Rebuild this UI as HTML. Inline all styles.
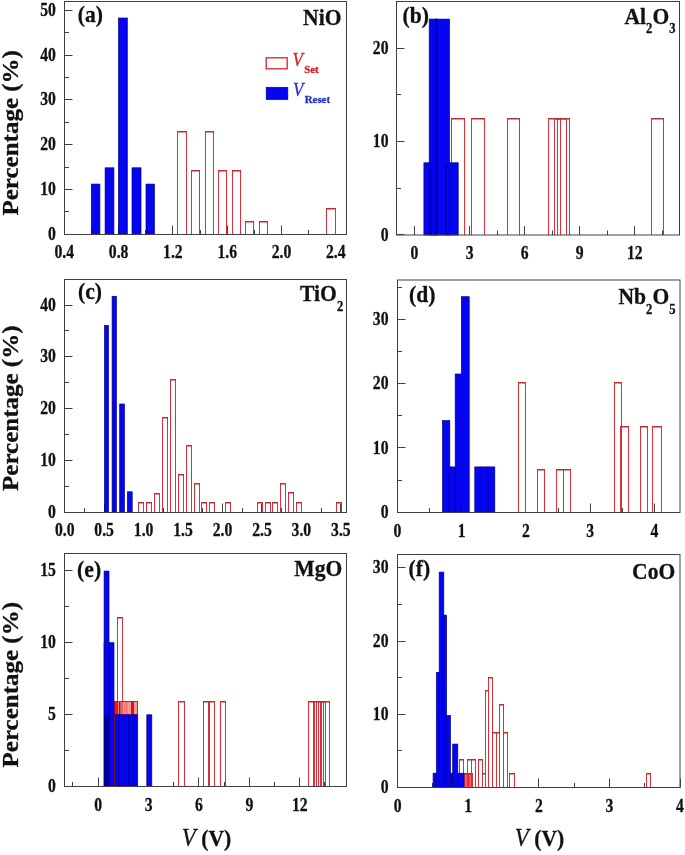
<!DOCTYPE html>
<html><head><meta charset="utf-8"><style>
html,body{margin:0;padding:0;background:#fff;}
svg{display:block;}
text{font-family:"Liberation Serif",serif;}
svg{will-change:transform;}
</style></head><body>
<svg width="685" height="855" viewBox="0 0 685 855">
<rect width="685" height="855" fill="#fff"/>
<line x1="64.50" y1="234.50" x2="72.50" y2="234.50" stroke="#404040" stroke-width="1.0"/>
<line x1="64.50" y1="211.50" x2="69.00" y2="211.50" stroke="#404040" stroke-width="1.0"/>
<line x1="64.50" y1="189.50" x2="72.50" y2="189.50" stroke="#404040" stroke-width="1.0"/>
<line x1="64.50" y1="167.50" x2="69.00" y2="167.50" stroke="#404040" stroke-width="1.0"/>
<line x1="64.50" y1="144.50" x2="72.50" y2="144.50" stroke="#404040" stroke-width="1.0"/>
<line x1="64.50" y1="122.50" x2="69.00" y2="122.50" stroke="#404040" stroke-width="1.0"/>
<line x1="64.50" y1="99.50" x2="72.50" y2="99.50" stroke="#404040" stroke-width="1.0"/>
<line x1="64.50" y1="77.50" x2="69.00" y2="77.50" stroke="#404040" stroke-width="1.0"/>
<line x1="64.50" y1="55.50" x2="72.50" y2="55.50" stroke="#404040" stroke-width="1.0"/>
<line x1="64.50" y1="32.50" x2="69.00" y2="32.50" stroke="#404040" stroke-width="1.0"/>
<line x1="64.50" y1="10.50" x2="72.50" y2="10.50" stroke="#404040" stroke-width="1.0"/>
<line x1="64.50" y1="234.50" x2="64.50" y2="225.50" stroke="#404040" stroke-width="1.0"/>
<line x1="91.50" y1="234.50" x2="91.50" y2="230.00" stroke="#404040" stroke-width="1.0"/>
<line x1="118.50" y1="234.50" x2="118.50" y2="225.50" stroke="#404040" stroke-width="1.0"/>
<line x1="145.50" y1="234.50" x2="145.50" y2="230.00" stroke="#404040" stroke-width="1.0"/>
<line x1="172.50" y1="234.50" x2="172.50" y2="225.50" stroke="#404040" stroke-width="1.0"/>
<line x1="200.50" y1="234.50" x2="200.50" y2="230.00" stroke="#404040" stroke-width="1.0"/>
<line x1="227.50" y1="234.50" x2="227.50" y2="225.50" stroke="#404040" stroke-width="1.0"/>
<line x1="254.50" y1="234.50" x2="254.50" y2="230.00" stroke="#404040" stroke-width="1.0"/>
<line x1="281.50" y1="234.50" x2="281.50" y2="225.50" stroke="#404040" stroke-width="1.0"/>
<line x1="308.50" y1="234.50" x2="308.50" y2="230.00" stroke="#404040" stroke-width="1.0"/>
<line x1="335.50" y1="234.50" x2="335.50" y2="225.50" stroke="#404040" stroke-width="1.0"/>
<line x1="396.50" y1="234.50" x2="404.50" y2="234.50" stroke="#404040" stroke-width="1.0"/>
<line x1="396.50" y1="188.50" x2="401.00" y2="188.50" stroke="#404040" stroke-width="1.0"/>
<line x1="396.50" y1="141.50" x2="404.50" y2="141.50" stroke="#404040" stroke-width="1.0"/>
<line x1="396.50" y1="94.50" x2="401.00" y2="94.50" stroke="#404040" stroke-width="1.0"/>
<line x1="396.50" y1="48.50" x2="404.50" y2="48.50" stroke="#404040" stroke-width="1.0"/>
<line x1="396.50" y1="1.50" x2="401.00" y2="1.50" stroke="#404040" stroke-width="1.0"/>
<line x1="414.50" y1="235.00" x2="414.50" y2="226.00" stroke="#404040" stroke-width="1.0"/>
<line x1="442.50" y1="235.00" x2="442.50" y2="230.50" stroke="#404040" stroke-width="1.0"/>
<line x1="469.50" y1="235.00" x2="469.50" y2="226.00" stroke="#404040" stroke-width="1.0"/>
<line x1="497.50" y1="235.00" x2="497.50" y2="230.50" stroke="#404040" stroke-width="1.0"/>
<line x1="524.50" y1="235.00" x2="524.50" y2="226.00" stroke="#404040" stroke-width="1.0"/>
<line x1="552.50" y1="235.00" x2="552.50" y2="230.50" stroke="#404040" stroke-width="1.0"/>
<line x1="579.50" y1="235.00" x2="579.50" y2="226.00" stroke="#404040" stroke-width="1.0"/>
<line x1="607.50" y1="235.00" x2="607.50" y2="230.50" stroke="#404040" stroke-width="1.0"/>
<line x1="634.50" y1="235.00" x2="634.50" y2="226.00" stroke="#404040" stroke-width="1.0"/>
<line x1="662.50" y1="235.00" x2="662.50" y2="230.50" stroke="#404040" stroke-width="1.0"/>
<line x1="64.50" y1="512.50" x2="72.50" y2="512.50" stroke="#404040" stroke-width="1.0"/>
<line x1="64.50" y1="486.50" x2="69.00" y2="486.50" stroke="#404040" stroke-width="1.0"/>
<line x1="64.50" y1="460.50" x2="72.50" y2="460.50" stroke="#404040" stroke-width="1.0"/>
<line x1="64.50" y1="434.50" x2="69.00" y2="434.50" stroke="#404040" stroke-width="1.0"/>
<line x1="64.50" y1="408.50" x2="72.50" y2="408.50" stroke="#404040" stroke-width="1.0"/>
<line x1="64.50" y1="382.50" x2="69.00" y2="382.50" stroke="#404040" stroke-width="1.0"/>
<line x1="64.50" y1="356.50" x2="72.50" y2="356.50" stroke="#404040" stroke-width="1.0"/>
<line x1="64.50" y1="330.50" x2="69.00" y2="330.50" stroke="#404040" stroke-width="1.0"/>
<line x1="64.50" y1="305.50" x2="72.50" y2="305.50" stroke="#404040" stroke-width="1.0"/>
<line x1="64.50" y1="279.50" x2="69.00" y2="279.50" stroke="#404040" stroke-width="1.0"/>
<line x1="64.50" y1="512.50" x2="64.50" y2="503.50" stroke="#404040" stroke-width="1.0"/>
<line x1="84.50" y1="512.50" x2="84.50" y2="508.00" stroke="#404040" stroke-width="1.0"/>
<line x1="104.50" y1="512.50" x2="104.50" y2="503.50" stroke="#404040" stroke-width="1.0"/>
<line x1="123.50" y1="512.50" x2="123.50" y2="508.00" stroke="#404040" stroke-width="1.0"/>
<line x1="143.50" y1="512.50" x2="143.50" y2="503.50" stroke="#404040" stroke-width="1.0"/>
<line x1="163.50" y1="512.50" x2="163.50" y2="508.00" stroke="#404040" stroke-width="1.0"/>
<line x1="183.50" y1="512.50" x2="183.50" y2="503.50" stroke="#404040" stroke-width="1.0"/>
<line x1="202.50" y1="512.50" x2="202.50" y2="508.00" stroke="#404040" stroke-width="1.0"/>
<line x1="222.50" y1="512.50" x2="222.50" y2="503.50" stroke="#404040" stroke-width="1.0"/>
<line x1="242.50" y1="512.50" x2="242.50" y2="508.00" stroke="#404040" stroke-width="1.0"/>
<line x1="261.50" y1="512.50" x2="261.50" y2="503.50" stroke="#404040" stroke-width="1.0"/>
<line x1="281.50" y1="512.50" x2="281.50" y2="508.00" stroke="#404040" stroke-width="1.0"/>
<line x1="301.50" y1="512.50" x2="301.50" y2="503.50" stroke="#404040" stroke-width="1.0"/>
<line x1="321.50" y1="512.50" x2="321.50" y2="508.00" stroke="#404040" stroke-width="1.0"/>
<line x1="340.50" y1="512.50" x2="340.50" y2="503.50" stroke="#404040" stroke-width="1.0"/>
<line x1="397.50" y1="512.50" x2="405.50" y2="512.50" stroke="#404040" stroke-width="1.0"/>
<line x1="397.50" y1="480.50" x2="402.00" y2="480.50" stroke="#404040" stroke-width="1.0"/>
<line x1="397.50" y1="447.50" x2="405.50" y2="447.50" stroke="#404040" stroke-width="1.0"/>
<line x1="397.50" y1="415.50" x2="402.00" y2="415.50" stroke="#404040" stroke-width="1.0"/>
<line x1="397.50" y1="383.50" x2="405.50" y2="383.50" stroke="#404040" stroke-width="1.0"/>
<line x1="397.50" y1="351.50" x2="402.00" y2="351.50" stroke="#404040" stroke-width="1.0"/>
<line x1="397.50" y1="319.50" x2="405.50" y2="319.50" stroke="#404040" stroke-width="1.0"/>
<line x1="397.50" y1="287.50" x2="402.00" y2="287.50" stroke="#404040" stroke-width="1.0"/>
<line x1="397.50" y1="512.50" x2="397.50" y2="503.50" stroke="#404040" stroke-width="1.0"/>
<line x1="429.50" y1="512.50" x2="429.50" y2="508.00" stroke="#404040" stroke-width="1.0"/>
<line x1="461.50" y1="512.50" x2="461.50" y2="503.50" stroke="#404040" stroke-width="1.0"/>
<line x1="493.50" y1="512.50" x2="493.50" y2="508.00" stroke="#404040" stroke-width="1.0"/>
<line x1="525.50" y1="512.50" x2="525.50" y2="503.50" stroke="#404040" stroke-width="1.0"/>
<line x1="558.50" y1="512.50" x2="558.50" y2="508.00" stroke="#404040" stroke-width="1.0"/>
<line x1="590.50" y1="512.50" x2="590.50" y2="503.50" stroke="#404040" stroke-width="1.0"/>
<line x1="622.50" y1="512.50" x2="622.50" y2="508.00" stroke="#404040" stroke-width="1.0"/>
<line x1="654.50" y1="512.50" x2="654.50" y2="503.50" stroke="#404040" stroke-width="1.0"/>
<line x1="64.50" y1="786.50" x2="72.50" y2="786.50" stroke="#404040" stroke-width="1.0"/>
<line x1="64.50" y1="750.50" x2="69.00" y2="750.50" stroke="#404040" stroke-width="1.0"/>
<line x1="64.50" y1="714.50" x2="72.50" y2="714.50" stroke="#404040" stroke-width="1.0"/>
<line x1="64.50" y1="678.50" x2="69.00" y2="678.50" stroke="#404040" stroke-width="1.0"/>
<line x1="64.50" y1="642.50" x2="72.50" y2="642.50" stroke="#404040" stroke-width="1.0"/>
<line x1="64.50" y1="606.50" x2="69.00" y2="606.50" stroke="#404040" stroke-width="1.0"/>
<line x1="64.50" y1="570.50" x2="72.50" y2="570.50" stroke="#404040" stroke-width="1.0"/>
<line x1="72.50" y1="786.50" x2="72.50" y2="782.00" stroke="#404040" stroke-width="1.0"/>
<line x1="98.50" y1="786.50" x2="98.50" y2="777.50" stroke="#404040" stroke-width="1.0"/>
<line x1="123.50" y1="786.50" x2="123.50" y2="782.00" stroke="#404040" stroke-width="1.0"/>
<line x1="148.50" y1="786.50" x2="148.50" y2="777.50" stroke="#404040" stroke-width="1.0"/>
<line x1="173.50" y1="786.50" x2="173.50" y2="782.00" stroke="#404040" stroke-width="1.0"/>
<line x1="198.50" y1="786.50" x2="198.50" y2="777.50" stroke="#404040" stroke-width="1.0"/>
<line x1="224.50" y1="786.50" x2="224.50" y2="782.00" stroke="#404040" stroke-width="1.0"/>
<line x1="249.50" y1="786.50" x2="249.50" y2="777.50" stroke="#404040" stroke-width="1.0"/>
<line x1="274.50" y1="786.50" x2="274.50" y2="782.00" stroke="#404040" stroke-width="1.0"/>
<line x1="299.50" y1="786.50" x2="299.50" y2="777.50" stroke="#404040" stroke-width="1.0"/>
<line x1="324.50" y1="786.50" x2="324.50" y2="782.00" stroke="#404040" stroke-width="1.0"/>
<line x1="397.50" y1="787.50" x2="405.50" y2="787.50" stroke="#404040" stroke-width="1.0"/>
<line x1="397.50" y1="750.50" x2="402.00" y2="750.50" stroke="#404040" stroke-width="1.0"/>
<line x1="397.50" y1="714.50" x2="405.50" y2="714.50" stroke="#404040" stroke-width="1.0"/>
<line x1="397.50" y1="677.50" x2="402.00" y2="677.50" stroke="#404040" stroke-width="1.0"/>
<line x1="397.50" y1="641.50" x2="405.50" y2="641.50" stroke="#404040" stroke-width="1.0"/>
<line x1="397.50" y1="604.50" x2="402.00" y2="604.50" stroke="#404040" stroke-width="1.0"/>
<line x1="397.50" y1="567.50" x2="405.50" y2="567.50" stroke="#404040" stroke-width="1.0"/>
<line x1="397.50" y1="787.50" x2="397.50" y2="778.50" stroke="#404040" stroke-width="1.0"/>
<line x1="432.50" y1="787.50" x2="432.50" y2="783.00" stroke="#404040" stroke-width="1.0"/>
<line x1="468.50" y1="787.50" x2="468.50" y2="778.50" stroke="#404040" stroke-width="1.0"/>
<line x1="503.50" y1="787.50" x2="503.50" y2="783.00" stroke="#404040" stroke-width="1.0"/>
<line x1="538.50" y1="787.50" x2="538.50" y2="778.50" stroke="#404040" stroke-width="1.0"/>
<line x1="574.50" y1="787.50" x2="574.50" y2="783.00" stroke="#404040" stroke-width="1.0"/>
<line x1="609.50" y1="787.50" x2="609.50" y2="778.50" stroke="#404040" stroke-width="1.0"/>
<line x1="644.50" y1="787.50" x2="644.50" y2="783.00" stroke="#404040" stroke-width="1.0"/>
<line x1="680.50" y1="787.50" x2="680.50" y2="778.50" stroke="#404040" stroke-width="1.0"/>
<path d="M177.5,234.5 V131.5 H186.5 V234.5" fill="none" stroke="#dc3038" stroke-width="1.0"/>
<line x1="177.0" y1="131.75" x2="187.0" y2="131.75" stroke="#c8282f" stroke-width="1.5"/>
<path d="M191.5,234.5 V170.5 H199.5 V234.5" fill="none" stroke="#dc3038" stroke-width="1.0"/>
<line x1="191.0" y1="170.75" x2="200.0" y2="170.75" stroke="#c8282f" stroke-width="1.5"/>
<path d="M205.5,234.5 V131.5 H213.5 V234.5" fill="none" stroke="#dc3038" stroke-width="1.0"/>
<line x1="205.0" y1="131.75" x2="214.0" y2="131.75" stroke="#c8282f" stroke-width="1.5"/>
<path d="M218.5,234.5 V170.5 H226.5 V234.5" fill="none" stroke="#dc3038" stroke-width="1.0"/>
<line x1="218.0" y1="170.75" x2="227.0" y2="170.75" stroke="#c8282f" stroke-width="1.5"/>
<path d="M232.5,234.5 V170.5 H240.5 V234.5" fill="none" stroke="#dc3038" stroke-width="1.0"/>
<line x1="232.0" y1="170.75" x2="241.0" y2="170.75" stroke="#c8282f" stroke-width="1.5"/>
<path d="M245.5,234.5 V221.5 H253.5 V234.5" fill="none" stroke="#dc3038" stroke-width="1.0"/>
<line x1="245.0" y1="221.75" x2="254.0" y2="221.75" stroke="#c8282f" stroke-width="1.5"/>
<path d="M259.5,234.5 V221.5 H267.5 V234.5" fill="none" stroke="#dc3038" stroke-width="1.0"/>
<line x1="259.0" y1="221.75" x2="268.0" y2="221.75" stroke="#c8282f" stroke-width="1.5"/>
<path d="M326.5,234.5 V208.5 H335.5 V234.5" fill="none" stroke="#dc3038" stroke-width="1.0"/>
<line x1="326.0" y1="208.75" x2="336.0" y2="208.75" stroke="#c8282f" stroke-width="1.5"/>
<rect x="91.30" y="184.10" width="8.60" height="50.40" fill="#0505f0" stroke="#00008a" stroke-width="0.7"/>
<rect x="105.10" y="167.80" width="8.80" height="66.70" fill="#0505f0" stroke="#00008a" stroke-width="0.7"/>
<rect x="118.50" y="18.00" width="8.80" height="216.50" fill="#0505f0" stroke="#00008a" stroke-width="0.7"/>
<rect x="132.00" y="167.80" width="9.00" height="66.70" fill="#0505f0" stroke="#00008a" stroke-width="0.7"/>
<rect x="146.00" y="184.10" width="8.40" height="50.40" fill="#0505f0" stroke="#00008a" stroke-width="0.7"/>
<rect x="266.2" y="57.8" width="21" height="11" fill="none" stroke="#dc3038" stroke-width="1.4"/>
<rect x="266.2" y="87.3" width="21.6" height="12.2" fill="#0505f0" stroke="#00008a" stroke-width="0.7"/>
<path d="M451.5,235 V118.5 H464.5 V235" fill="none" stroke="#dc3038" stroke-width="1.0"/>
<line x1="451.0" y1="118.75" x2="465.0" y2="118.75" stroke="#c8282f" stroke-width="1.5"/>
<path d="M471.5,235 V118.5 H484.5 V235" fill="none" stroke="#dc3038" stroke-width="1.0"/>
<line x1="471.0" y1="118.75" x2="485.0" y2="118.75" stroke="#c8282f" stroke-width="1.5"/>
<path d="M507.5,235 V118.5 H519.5 V235" fill="none" stroke="#dc3038" stroke-width="1.0"/>
<line x1="507.0" y1="118.75" x2="520.0" y2="118.75" stroke="#c8282f" stroke-width="1.5"/>
<path d="M548.5,235 V118.5 H560.5 V235" fill="none" stroke="#dc3038" stroke-width="1.0"/>
<line x1="548.0" y1="118.75" x2="561.0" y2="118.75" stroke="#c8282f" stroke-width="1.5"/>
<path d="M554.5,235 V118.5 H566.5 V235" fill="none" stroke="#dc3038" stroke-width="1.0"/>
<line x1="554.0" y1="118.75" x2="567.0" y2="118.75" stroke="#c8282f" stroke-width="1.5"/>
<path d="M557.5,235 V118.5 H569.5 V235" fill="none" stroke="#dc3038" stroke-width="1.0"/>
<line x1="557.0" y1="118.75" x2="570.0" y2="118.75" stroke="#c8282f" stroke-width="1.5"/>
<path d="M651.5,235 V118.5 H663.5 V235" fill="none" stroke="#dc3038" stroke-width="1.0"/>
<line x1="651.0" y1="118.75" x2="664.0" y2="118.75" stroke="#c8282f" stroke-width="1.5"/>
<rect x="423.90" y="162.80" width="12.50" height="72.20" fill="#0505f0" stroke="#00008a" stroke-width="0.7"/>
<rect x="445.70" y="162.80" width="12.50" height="72.20" fill="#0505f0" stroke="#00008a" stroke-width="0.7"/>
<rect x="429.20" y="19.10" width="8.30" height="215.90" fill="#0505f0" stroke="#00008a" stroke-width="0.7"/>
<rect x="435.50" y="19.10" width="14.00" height="215.90" fill="#0505f0" stroke="#00008a" stroke-width="0.7"/>
<rect x="435.3" y="19.5" width="2.2" height="215.5" fill="#0000b8"/>
<line x1="430.0" y1="163" x2="430.0" y2="235" stroke="#0000a0" stroke-width="0.8"/>
<line x1="431.4" y1="163" x2="431.4" y2="235" stroke="#0000a0" stroke-width="0.8"/>
<line x1="445.6" y1="163" x2="445.6" y2="235" stroke="#0000a0" stroke-width="0.8"/>
<line x1="446.7" y1="163" x2="446.7" y2="235" stroke="#0000a0" stroke-width="0.8"/>
<path d="M138.5,512.5 V502.5 H143.5 V512.5" fill="none" stroke="#dc3038" stroke-width="1.0"/>
<line x1="138.0" y1="502.75" x2="144.0" y2="502.75" stroke="#c8282f" stroke-width="1.5"/>
<path d="M146.5,512.5 V502.5 H151.5 V512.5" fill="none" stroke="#dc3038" stroke-width="1.0"/>
<line x1="146.0" y1="502.75" x2="152.0" y2="502.75" stroke="#c8282f" stroke-width="1.5"/>
<path d="M154.5,512.5 V493.5 H159.5 V512.5" fill="none" stroke="#dc3038" stroke-width="1.0"/>
<line x1="154.0" y1="493.75" x2="160.0" y2="493.75" stroke="#c8282f" stroke-width="1.5"/>
<path d="M162.5,512.5 V417.5 H167.5 V512.5" fill="none" stroke="#dc3038" stroke-width="1.0"/>
<line x1="162.0" y1="417.75" x2="168.0" y2="417.75" stroke="#c8282f" stroke-width="1.5"/>
<path d="M170.5,512.5 V379.5 H175.5 V512.5" fill="none" stroke="#dc3038" stroke-width="1.0"/>
<line x1="170.0" y1="379.75" x2="176.0" y2="379.75" stroke="#c8282f" stroke-width="1.5"/>
<path d="M178.5,512.5 V474.5 H183.5 V512.5" fill="none" stroke="#dc3038" stroke-width="1.0"/>
<line x1="178.0" y1="474.75" x2="184.0" y2="474.75" stroke="#c8282f" stroke-width="1.5"/>
<path d="M186.5,512.5 V445.5 H191.5 V512.5" fill="none" stroke="#dc3038" stroke-width="1.0"/>
<line x1="186.0" y1="445.75" x2="192.0" y2="445.75" stroke="#c8282f" stroke-width="1.5"/>
<path d="M194.5,512.5 V483.5 H199.5 V512.5" fill="none" stroke="#dc3038" stroke-width="1.0"/>
<line x1="194.0" y1="483.75" x2="200.0" y2="483.75" stroke="#c8282f" stroke-width="1.5"/>
<path d="M201.5,512.5 V502.5 H206.5 V512.5" fill="none" stroke="#dc3038" stroke-width="1.0"/>
<line x1="201.0" y1="502.75" x2="207.0" y2="502.75" stroke="#c8282f" stroke-width="1.5"/>
<path d="M209.5,512.5 V502.5 H214.5 V512.5" fill="none" stroke="#dc3038" stroke-width="1.0"/>
<line x1="209.0" y1="502.75" x2="215.0" y2="502.75" stroke="#c8282f" stroke-width="1.5"/>
<path d="M225.5,512.5 V502.5 H230.5 V512.5" fill="none" stroke="#dc3038" stroke-width="1.0"/>
<line x1="225.0" y1="502.75" x2="231.0" y2="502.75" stroke="#c8282f" stroke-width="1.5"/>
<path d="M257.5,512.5 V502.5 H262.5 V512.5" fill="none" stroke="#dc3038" stroke-width="1.0"/>
<line x1="257.0" y1="502.75" x2="263.0" y2="502.75" stroke="#c8282f" stroke-width="1.5"/>
<path d="M265.5,512.5 V502.5 H270.5 V512.5" fill="none" stroke="#dc3038" stroke-width="1.0"/>
<line x1="265.0" y1="502.75" x2="271.0" y2="502.75" stroke="#c8282f" stroke-width="1.5"/>
<path d="M272.5,512.5 V502.5 H277.5 V512.5" fill="none" stroke="#dc3038" stroke-width="1.0"/>
<line x1="272.0" y1="502.75" x2="278.0" y2="502.75" stroke="#c8282f" stroke-width="1.5"/>
<path d="M280.5,512.5 V483.5 H285.5 V512.5" fill="none" stroke="#dc3038" stroke-width="1.0"/>
<line x1="280.0" y1="483.75" x2="286.0" y2="483.75" stroke="#c8282f" stroke-width="1.5"/>
<path d="M288.5,512.5 V492.5 H293.5 V512.5" fill="none" stroke="#dc3038" stroke-width="1.0"/>
<line x1="288.0" y1="492.75" x2="294.0" y2="492.75" stroke="#c8282f" stroke-width="1.5"/>
<path d="M296.5,512.5 V502.5 H301.5 V512.5" fill="none" stroke="#dc3038" stroke-width="1.0"/>
<line x1="296.0" y1="502.75" x2="302.0" y2="502.75" stroke="#c8282f" stroke-width="1.5"/>
<path d="M336.5,512.5 V502.5 H341.5 V512.5" fill="none" stroke="#dc3038" stroke-width="1.0"/>
<line x1="336.0" y1="502.75" x2="342.0" y2="502.75" stroke="#c8282f" stroke-width="1.5"/>
<rect x="104.50" y="325.50" width="4.00" height="187.00" fill="#0505f0" stroke="#00008a" stroke-width="0.7"/>
<rect x="112.10" y="296.30" width="4.30" height="216.20" fill="#0505f0" stroke="#00008a" stroke-width="0.7"/>
<rect x="119.70" y="404.00" width="4.70" height="108.50" fill="#0505f0" stroke="#00008a" stroke-width="0.7"/>
<rect x="127.40" y="491.80" width="4.80" height="20.70" fill="#0505f0" stroke="#00008a" stroke-width="0.7"/>
<path d="M518.5,512.5 V382.5 H525.5 V512.5" fill="none" stroke="#dc3038" stroke-width="1.0"/>
<line x1="518.0" y1="382.75" x2="526.0" y2="382.75" stroke="#c8282f" stroke-width="1.5"/>
<path d="M537.5,512.5 V469.5 H544.5 V512.5" fill="none" stroke="#dc3038" stroke-width="1.0"/>
<line x1="537.0" y1="469.75" x2="545.0" y2="469.75" stroke="#c8282f" stroke-width="1.5"/>
<path d="M556.5,512.5 V469.5 H563.5 V512.5" fill="none" stroke="#dc3038" stroke-width="1.0"/>
<line x1="556.0" y1="469.75" x2="564.0" y2="469.75" stroke="#c8282f" stroke-width="1.5"/>
<path d="M563.5,512.5 V469.5 H570.5 V512.5" fill="none" stroke="#dc3038" stroke-width="1.0"/>
<line x1="563.0" y1="469.75" x2="571.0" y2="469.75" stroke="#c8282f" stroke-width="1.5"/>
<path d="M614.5,512.5 V382.5 H621.5 V512.5" fill="none" stroke="#dc3038" stroke-width="1.0"/>
<line x1="614.0" y1="382.75" x2="622.0" y2="382.75" stroke="#c8282f" stroke-width="1.5"/>
<path d="M620.5,512.5 V426.5 H628.5 V512.5" fill="none" stroke="#dc3038" stroke-width="1.0"/>
<line x1="620.0" y1="426.75" x2="629.0" y2="426.75" stroke="#c8282f" stroke-width="1.5"/>
<path d="M640.5,512.5 V426.5 H647.5 V512.5" fill="none" stroke="#dc3038" stroke-width="1.0"/>
<line x1="640.0" y1="426.75" x2="648.0" y2="426.75" stroke="#c8282f" stroke-width="1.5"/>
<path d="M652.5,512.5 V426.5 H661.5 V512.5" fill="none" stroke="#dc3038" stroke-width="1.0"/>
<line x1="652.0" y1="426.75" x2="662.0" y2="426.75" stroke="#c8282f" stroke-width="1.5"/>
<rect x="442.50" y="420.60" width="7.30" height="91.90" fill="#0505f0" stroke="#00008a" stroke-width="0.7"/>
<rect x="449.00" y="466.90" width="6.70" height="45.60" fill="#0505f0" stroke="#00008a" stroke-width="0.7"/>
<rect x="455.20" y="374.00" width="6.70" height="138.50" fill="#0505f0" stroke="#00008a" stroke-width="0.7"/>
<rect x="461.40" y="296.70" width="7.80" height="215.80" fill="#0505f0" stroke="#00008a" stroke-width="0.7"/>
<rect x="474.80" y="466.90" width="6.50" height="45.60" fill="#0505f0" stroke="#00008a" stroke-width="0.7"/>
<rect x="481.30" y="466.90" width="6.70" height="45.60" fill="#0505f0" stroke="#00008a" stroke-width="0.7"/>
<rect x="488.00" y="466.90" width="6.80" height="45.60" fill="#0505f0" stroke="#00008a" stroke-width="0.7"/>
<path d="M178.5,786.5 V701.5 H184.5 V786.5" fill="none" stroke="#dc3038" stroke-width="1.0"/>
<line x1="178.0" y1="701.75" x2="185.0" y2="701.75" stroke="#c8282f" stroke-width="1.5"/>
<path d="M203.5,786.5 V701.5 H208.5 V786.5" fill="none" stroke="#dc3038" stroke-width="1.0"/>
<line x1="203.0" y1="701.75" x2="209.0" y2="701.75" stroke="#c8282f" stroke-width="1.5"/>
<path d="M209.5,786.5 V701.5 H214.5 V786.5" fill="none" stroke="#dc3038" stroke-width="1.0"/>
<line x1="209.0" y1="701.75" x2="215.0" y2="701.75" stroke="#c8282f" stroke-width="1.5"/>
<path d="M220.5,786.5 V701.5 H225.5 V786.5" fill="none" stroke="#dc3038" stroke-width="1.0"/>
<line x1="220.0" y1="701.75" x2="226.0" y2="701.75" stroke="#c8282f" stroke-width="1.5"/>
<path d="M308.5,786.5 V701.5 H314.5 V786.5" fill="none" stroke="#dc3038" stroke-width="1.0"/>
<line x1="308.0" y1="701.75" x2="315.0" y2="701.75" stroke="#c8282f" stroke-width="1.5"/>
<path d="M313.5,786.5 V701.5 H318.5 V786.5" fill="none" stroke="#dc3038" stroke-width="1.0"/>
<line x1="313.0" y1="701.75" x2="319.0" y2="701.75" stroke="#c8282f" stroke-width="1.5"/>
<path d="M316.5,786.5 V701.5 H321.5 V786.5" fill="none" stroke="#dc3038" stroke-width="1.0"/>
<line x1="316.0" y1="701.75" x2="322.0" y2="701.75" stroke="#c8282f" stroke-width="1.5"/>
<path d="M318.5,786.5 V701.5 H323.5 V786.5" fill="none" stroke="#dc3038" stroke-width="1.0"/>
<line x1="318.0" y1="701.75" x2="324.0" y2="701.75" stroke="#c8282f" stroke-width="1.5"/>
<path d="M320.5,786.5 V701.5 H325.5 V786.5" fill="none" stroke="#dc3038" stroke-width="1.0"/>
<line x1="320.0" y1="701.75" x2="326.0" y2="701.75" stroke="#c8282f" stroke-width="1.5"/>
<path d="M323.5,786.5 V701.5 H329.5 V786.5" fill="none" stroke="#dc3038" stroke-width="1.0"/>
<line x1="323.0" y1="701.75" x2="330.0" y2="701.75" stroke="#c8282f" stroke-width="1.5"/>
<path d="M117.5,786.5 V617.5 H122.5 V786.5" fill="none" stroke="#dc3038" stroke-width="1.0"/>
<line x1="117.0" y1="617.75" x2="123.0" y2="617.75" stroke="#c8282f" stroke-width="1.5"/>
<rect x="114" y="701.5" width="24" height="13.3" fill="#f49a9a"/>
<rect x="114" y="701.5" width="4" height="13.3" fill="#ee1515"/>
<rect x="118.8" y="701.5" width="1.7000000000000028" height="13.3" fill="#b01818"/>
<rect x="124" y="701.5" width="4" height="13.3" fill="#f77"/>
<rect x="131" y="701.5" width="3" height="13.3" fill="#e41010"/>
<rect x="121.5" y="701.5" width="1.0" height="13.3" fill="#d22"/>
<rect x="114.5" y="701.5" width="23" height="13.3" fill="none" stroke="#d02020" stroke-width="1"/>
<rect x="114.00" y="714.80" width="5.00" height="71.70" fill="#0505f0" stroke="#00008a" stroke-width="0.7"/>
<rect x="119.00" y="714.80" width="5.00" height="71.70" fill="#0505f0" stroke="#00008a" stroke-width="0.7"/>
<rect x="124.00" y="714.80" width="5.00" height="71.70" fill="#0505f0" stroke="#00008a" stroke-width="0.7"/>
<rect x="129.00" y="714.80" width="4.50" height="71.70" fill="#0505f0" stroke="#00008a" stroke-width="0.7"/>
<rect x="133.50" y="714.80" width="4.20" height="71.70" fill="#0505f0" stroke="#00008a" stroke-width="0.7"/>
<rect x="104.10" y="642.70" width="9.90" height="143.80" fill="#0505f0" stroke="#00008a" stroke-width="0.7"/>
<rect x="104.10" y="571.10" width="4.90" height="215.40" fill="#0505f0" stroke="#00008a" stroke-width="0.7"/>
<rect x="146.80" y="714.80" width="5.00" height="71.70" fill="#0505f0" stroke="#00008a" stroke-width="0.7"/>
<rect x="104.1" y="714.8" width="4.9" height="71.70000000000005" fill="#000090"/>
<line x1="114.50" y1="714.80" x2="114.50" y2="786.50" stroke="#7a1030" stroke-width="1"/>
<rect x="464.2" y="773.5" width="8.4" height="14.0" fill="#f26060"/>
<rect x="467.6" y="773.5" width="1.6" height="14.0" fill="#a01010"/>
<path d="M459.5,787.5 V759.5 H463.5 V787.5" fill="none" stroke="#dc3038" stroke-width="1.0"/>
<line x1="459.0" y1="759.75" x2="464.0" y2="759.75" stroke="#c8282f" stroke-width="1.5"/>
<path d="M467.5,787.5 V759.5 H471.5 V787.5" fill="none" stroke="#dc3038" stroke-width="1.0"/>
<line x1="467.0" y1="759.75" x2="472.0" y2="759.75" stroke="#c8282f" stroke-width="1.5"/>
<path d="M471.5,787.5 V759.5 H475.5 V787.5" fill="none" stroke="#dc3038" stroke-width="1.0"/>
<line x1="471.0" y1="759.75" x2="476.0" y2="759.75" stroke="#c8282f" stroke-width="1.5"/>
<path d="M478.5,787.5 V759.5 H482.5 V787.5" fill="none" stroke="#dc3038" stroke-width="1.0"/>
<line x1="478.0" y1="759.75" x2="483.0" y2="759.75" stroke="#c8282f" stroke-width="1.5"/>
<path d="M464.5,787.5 V773.5 H467.5 V787.5" fill="none" stroke="#dc3038" stroke-width="1.0"/>
<line x1="464.0" y1="773.75" x2="468.0" y2="773.75" stroke="#c8282f" stroke-width="1.5"/>
<path d="M468.5,787.5 V773.5 H472.5 V787.5" fill="none" stroke="#dc3038" stroke-width="1.0"/>
<line x1="468.0" y1="773.75" x2="473.0" y2="773.75" stroke="#c8282f" stroke-width="1.5"/>
<path d="M482.5,787.5 V773.5 H485.5 V787.5" fill="none" stroke="#dc3038" stroke-width="1.0"/>
<line x1="482.0" y1="773.75" x2="486.0" y2="773.75" stroke="#c8282f" stroke-width="1.5"/>
<path d="M485.5,787.5 V690.5 H488.5 V787.5" fill="none" stroke="#dc3038" stroke-width="1.0"/>
<line x1="485.0" y1="690.75" x2="489.0" y2="690.75" stroke="#c8282f" stroke-width="1.5"/>
<path d="M488.5,787.5 V677.5 H492.5 V787.5" fill="none" stroke="#dc3038" stroke-width="1.0"/>
<line x1="488.0" y1="677.75" x2="493.0" y2="677.75" stroke="#c8282f" stroke-width="1.5"/>
<path d="M492.5,787.5 V732.5 H496.5 V787.5" fill="none" stroke="#dc3038" stroke-width="1.0"/>
<line x1="492.0" y1="732.75" x2="497.0" y2="732.75" stroke="#c8282f" stroke-width="1.5"/>
<path d="M496.5,787.5 V732.5 H499.5 V787.5" fill="none" stroke="#dc3038" stroke-width="1.0"/>
<line x1="496.0" y1="732.75" x2="500.0" y2="732.75" stroke="#c8282f" stroke-width="1.5"/>
<path d="M499.5,787.5 V704.5 H503.5 V787.5" fill="none" stroke="#dc3038" stroke-width="1.0"/>
<line x1="499.0" y1="704.75" x2="504.0" y2="704.75" stroke="#c8282f" stroke-width="1.5"/>
<path d="M503.5,787.5 V732.5 H507.5 V787.5" fill="none" stroke="#dc3038" stroke-width="1.0"/>
<line x1="503.0" y1="732.75" x2="508.0" y2="732.75" stroke="#c8282f" stroke-width="1.5"/>
<path d="M509.5,787.5 V773.5 H514.5 V787.5" fill="none" stroke="#dc3038" stroke-width="1.0"/>
<line x1="509.0" y1="773.75" x2="515.0" y2="773.75" stroke="#c8282f" stroke-width="1.5"/>
<path d="M646.5,787.5 V773.5 H650.5 V787.5" fill="none" stroke="#dc3038" stroke-width="1.0"/>
<line x1="646.0" y1="773.75" x2="651.0" y2="773.75" stroke="#c8282f" stroke-width="1.5"/>
<rect x="433.10" y="773.20" width="3.20" height="14.30" fill="#0505f0" stroke="#00008a" stroke-width="0.7"/>
<rect x="436.30" y="672.40" width="3.50" height="115.10" fill="#0505f0" stroke="#00008a" stroke-width="0.7"/>
<rect x="439.20" y="572.10" width="4.60" height="215.40" fill="#0505f0" stroke="#00008a" stroke-width="0.7"/>
<rect x="443.30" y="615.10" width="3.20" height="172.40" fill="#0505f0" stroke="#00008a" stroke-width="0.7"/>
<rect x="446.00" y="715.40" width="4.50" height="72.10" fill="#0505f0" stroke="#00008a" stroke-width="0.7"/>
<rect x="450.50" y="773.20" width="2.30" height="14.30" fill="#0505f0" stroke="#00008a" stroke-width="0.7"/>
<rect x="452.70" y="744.10" width="5.10" height="43.40" fill="#0505f0" stroke="#00008a" stroke-width="0.7"/>
<rect x="457.80" y="773.20" width="6.20" height="14.30" fill="#0505f0" stroke="#00008a" stroke-width="0.7"/>
<rect x="64.5" y="1.5" width="282.0" height="233.0" fill="none" stroke="#404040" stroke-width="1"/>
<rect x="396.5" y="1.5" width="283.0" height="233.5" fill="none" stroke="#404040" stroke-width="1"/>
<rect x="64.5" y="279.5" width="282.0" height="233.0" fill="none" stroke="#404040" stroke-width="1"/>
<rect x="397.5" y="280" width="282.5" height="232.5" fill="none" stroke="#404040" stroke-width="1"/>
<rect x="64.5" y="553.5" width="282.0" height="233.0" fill="none" stroke="#404040" stroke-width="1"/>
<rect x="397.5" y="554.5" width="282.5" height="233.0" fill="none" stroke="#404040" stroke-width="1"/>
<text transform="translate(55.80,239.80) scale(0.87,1)" font-size="18" text-anchor="end" font-weight="bold" font-style="normal" fill="#111" stroke="#111" stroke-width="0.3" >0</text>
<text transform="translate(55.80,195.00) scale(0.87,1)" font-size="18" text-anchor="end" font-weight="bold" font-style="normal" fill="#111" stroke="#111" stroke-width="0.3" >10</text>
<text transform="translate(55.80,150.20) scale(0.87,1)" font-size="18" text-anchor="end" font-weight="bold" font-style="normal" fill="#111" stroke="#111" stroke-width="0.3" >20</text>
<text transform="translate(55.80,105.40) scale(0.87,1)" font-size="18" text-anchor="end" font-weight="bold" font-style="normal" fill="#111" stroke="#111" stroke-width="0.3" >30</text>
<text transform="translate(55.80,60.60) scale(0.87,1)" font-size="18" text-anchor="end" font-weight="bold" font-style="normal" fill="#111" stroke="#111" stroke-width="0.3" >40</text>
<text transform="translate(55.80,15.80) scale(0.87,1)" font-size="18" text-anchor="end" font-weight="bold" font-style="normal" fill="#111" stroke="#111" stroke-width="0.3" >50</text>
<text transform="translate(64.30,258.30) scale(0.87,1)" font-size="18" text-anchor="middle" font-weight="bold" font-style="normal" fill="#111" stroke="#111" stroke-width="0.3" >0.4</text>
<text transform="translate(118.60,258.30) scale(0.87,1)" font-size="18" text-anchor="middle" font-weight="bold" font-style="normal" fill="#111" stroke="#111" stroke-width="0.3" >0.8</text>
<text transform="translate(172.90,258.30) scale(0.87,1)" font-size="18" text-anchor="middle" font-weight="bold" font-style="normal" fill="#111" stroke="#111" stroke-width="0.3" >1.2</text>
<text transform="translate(227.20,258.30) scale(0.87,1)" font-size="18" text-anchor="middle" font-weight="bold" font-style="normal" fill="#111" stroke="#111" stroke-width="0.3" >1.6</text>
<text transform="translate(281.50,258.30) scale(0.87,1)" font-size="18" text-anchor="middle" font-weight="bold" font-style="normal" fill="#111" stroke="#111" stroke-width="0.3" >2.0</text>
<text transform="translate(335.80,258.30) scale(0.87,1)" font-size="18" text-anchor="middle" font-weight="bold" font-style="normal" fill="#111" stroke="#111" stroke-width="0.3" >2.4</text>
<text transform="translate(292.50,66.00) scale(0.9,1)" font-size="19" text-anchor="start" font-weight="normal" font-style="italic" fill="#d42222" stroke="#d42222" stroke-width="0.3" >V</text>
<text transform="translate(304.30,73.30) scale(0.98,1)" font-size="11" text-anchor="start" font-weight="bold" font-style="normal" fill="#d42222" stroke="#d42222" stroke-width="0.3" >Set</text>
<text transform="translate(293.00,96.20) scale(0.9,1)" font-size="19" text-anchor="start" font-weight="normal" font-style="italic" fill="#2233c8" stroke="#2233c8" stroke-width="0.3" >V</text>
<text transform="translate(304.70,102.90) scale(0.99,1)" font-size="11" text-anchor="start" font-weight="bold" font-style="normal" fill="#2233c8" stroke="#2233c8" stroke-width="0.3" >Reset</text>
<text transform="translate(341.50,25.00) scale(0.9,1)" font-size="24" text-anchor="end" font-weight="bold" font-style="normal" fill="#111" stroke="#111" stroke-width="0.3" >NiO</text>
<text transform="translate(77.80,22.30) scale(0.9,1)" font-size="24" text-anchor="start" font-weight="bold" font-style="normal" fill="#111" stroke="#111" stroke-width="0.3" >(a)</text>
<text transform="translate(388.50,240.50) scale(0.87,1)" font-size="18" text-anchor="end" font-weight="bold" font-style="normal" fill="#111" stroke="#111" stroke-width="0.3" >0</text>
<text transform="translate(388.50,147.00) scale(0.87,1)" font-size="18" text-anchor="end" font-weight="bold" font-style="normal" fill="#111" stroke="#111" stroke-width="0.3" >10</text>
<text transform="translate(388.50,53.50) scale(0.87,1)" font-size="18" text-anchor="end" font-weight="bold" font-style="normal" fill="#111" stroke="#111" stroke-width="0.3" >20</text>
<text transform="translate(414.50,259.00) scale(0.87,1)" font-size="18" text-anchor="middle" font-weight="bold" font-style="normal" fill="#111" stroke="#111" stroke-width="0.3" >0</text>
<text transform="translate(469.55,259.00) scale(0.87,1)" font-size="18" text-anchor="middle" font-weight="bold" font-style="normal" fill="#111" stroke="#111" stroke-width="0.3" >3</text>
<text transform="translate(524.60,259.00) scale(0.87,1)" font-size="18" text-anchor="middle" font-weight="bold" font-style="normal" fill="#111" stroke="#111" stroke-width="0.3" >6</text>
<text transform="translate(579.65,259.00) scale(0.87,1)" font-size="18" text-anchor="middle" font-weight="bold" font-style="normal" fill="#111" stroke="#111" stroke-width="0.3" >9</text>
<text transform="translate(634.70,259.00) scale(0.87,1)" font-size="18" text-anchor="middle" font-weight="bold" font-style="normal" fill="#111" stroke="#111" stroke-width="0.3" >12</text>
<text transform="translate(402.60,23.10) scale(0.9,1)" font-size="24" text-anchor="start" font-weight="bold" font-style="normal" fill="#111" stroke="#111" stroke-width="0.3" >(b)</text>
<text transform="translate(55.80,517.70) scale(0.87,1)" font-size="18" text-anchor="end" font-weight="bold" font-style="normal" fill="#111" stroke="#111" stroke-width="0.3" >0</text>
<text transform="translate(55.80,465.90) scale(0.87,1)" font-size="18" text-anchor="end" font-weight="bold" font-style="normal" fill="#111" stroke="#111" stroke-width="0.3" >10</text>
<text transform="translate(55.80,414.10) scale(0.87,1)" font-size="18" text-anchor="end" font-weight="bold" font-style="normal" fill="#111" stroke="#111" stroke-width="0.3" >20</text>
<text transform="translate(55.80,362.30) scale(0.87,1)" font-size="18" text-anchor="end" font-weight="bold" font-style="normal" fill="#111" stroke="#111" stroke-width="0.3" >30</text>
<text transform="translate(55.80,310.50) scale(0.87,1)" font-size="18" text-anchor="end" font-weight="bold" font-style="normal" fill="#111" stroke="#111" stroke-width="0.3" >40</text>
<text transform="translate(64.70,535.70) scale(0.87,1)" font-size="18" text-anchor="middle" font-weight="bold" font-style="normal" fill="#111" stroke="#111" stroke-width="0.3" >0.0</text>
<text transform="translate(104.15,535.70) scale(0.87,1)" font-size="18" text-anchor="middle" font-weight="bold" font-style="normal" fill="#111" stroke="#111" stroke-width="0.3" >0.5</text>
<text transform="translate(143.60,535.70) scale(0.87,1)" font-size="18" text-anchor="middle" font-weight="bold" font-style="normal" fill="#111" stroke="#111" stroke-width="0.3" >1.0</text>
<text transform="translate(183.05,535.70) scale(0.87,1)" font-size="18" text-anchor="middle" font-weight="bold" font-style="normal" fill="#111" stroke="#111" stroke-width="0.3" >1.5</text>
<text transform="translate(222.50,535.70) scale(0.87,1)" font-size="18" text-anchor="middle" font-weight="bold" font-style="normal" fill="#111" stroke="#111" stroke-width="0.3" >2.0</text>
<text transform="translate(261.95,535.70) scale(0.87,1)" font-size="18" text-anchor="middle" font-weight="bold" font-style="normal" fill="#111" stroke="#111" stroke-width="0.3" >2.5</text>
<text transform="translate(301.40,535.70) scale(0.87,1)" font-size="18" text-anchor="middle" font-weight="bold" font-style="normal" fill="#111" stroke="#111" stroke-width="0.3" >3.0</text>
<text transform="translate(340.85,535.70) scale(0.87,1)" font-size="18" text-anchor="middle" font-weight="bold" font-style="normal" fill="#111" stroke="#111" stroke-width="0.3" >3.5</text>
<text transform="translate(78.00,299.40) scale(0.9,1)" font-size="24" text-anchor="start" font-weight="bold" font-style="normal" fill="#111" stroke="#111" stroke-width="0.3" >(c)</text>
<text transform="translate(388.50,517.80) scale(0.87,1)" font-size="18" text-anchor="end" font-weight="bold" font-style="normal" fill="#111" stroke="#111" stroke-width="0.3" >0</text>
<text transform="translate(388.50,453.50) scale(0.87,1)" font-size="18" text-anchor="end" font-weight="bold" font-style="normal" fill="#111" stroke="#111" stroke-width="0.3" >10</text>
<text transform="translate(388.50,389.20) scale(0.87,1)" font-size="18" text-anchor="end" font-weight="bold" font-style="normal" fill="#111" stroke="#111" stroke-width="0.3" >20</text>
<text transform="translate(388.50,324.90) scale(0.87,1)" font-size="18" text-anchor="end" font-weight="bold" font-style="normal" fill="#111" stroke="#111" stroke-width="0.3" >30</text>
<text transform="translate(397.50,536.50) scale(0.87,1)" font-size="18" text-anchor="middle" font-weight="bold" font-style="normal" fill="#111" stroke="#111" stroke-width="0.3" >0</text>
<text transform="translate(461.70,536.50) scale(0.87,1)" font-size="18" text-anchor="middle" font-weight="bold" font-style="normal" fill="#111" stroke="#111" stroke-width="0.3" >1</text>
<text transform="translate(525.90,536.50) scale(0.87,1)" font-size="18" text-anchor="middle" font-weight="bold" font-style="normal" fill="#111" stroke="#111" stroke-width="0.3" >2</text>
<text transform="translate(590.10,536.50) scale(0.87,1)" font-size="18" text-anchor="middle" font-weight="bold" font-style="normal" fill="#111" stroke="#111" stroke-width="0.3" >3</text>
<text transform="translate(654.30,536.50) scale(0.87,1)" font-size="18" text-anchor="middle" font-weight="bold" font-style="normal" fill="#111" stroke="#111" stroke-width="0.3" >4</text>
<text transform="translate(409.00,302.00) scale(0.9,1)" font-size="24" text-anchor="start" font-weight="bold" font-style="normal" fill="#111" stroke="#111" stroke-width="0.3" >(d)</text>
<text transform="translate(55.80,791.80) scale(0.87,1)" font-size="18" text-anchor="end" font-weight="bold" font-style="normal" fill="#111" stroke="#111" stroke-width="0.3" >0</text>
<text transform="translate(55.80,719.90) scale(0.87,1)" font-size="18" text-anchor="end" font-weight="bold" font-style="normal" fill="#111" stroke="#111" stroke-width="0.3" >5</text>
<text transform="translate(55.80,648.00) scale(0.87,1)" font-size="18" text-anchor="end" font-weight="bold" font-style="normal" fill="#111" stroke="#111" stroke-width="0.3" >10</text>
<text transform="translate(55.80,576.10) scale(0.87,1)" font-size="18" text-anchor="end" font-weight="bold" font-style="normal" fill="#111" stroke="#111" stroke-width="0.3" >15</text>
<text transform="translate(98.20,811.20) scale(0.87,1)" font-size="18" text-anchor="middle" font-weight="bold" font-style="normal" fill="#111" stroke="#111" stroke-width="0.3" >0</text>
<text transform="translate(148.60,811.20) scale(0.87,1)" font-size="18" text-anchor="middle" font-weight="bold" font-style="normal" fill="#111" stroke="#111" stroke-width="0.3" >3</text>
<text transform="translate(199.00,811.20) scale(0.87,1)" font-size="18" text-anchor="middle" font-weight="bold" font-style="normal" fill="#111" stroke="#111" stroke-width="0.3" >6</text>
<text transform="translate(249.40,811.20) scale(0.87,1)" font-size="18" text-anchor="middle" font-weight="bold" font-style="normal" fill="#111" stroke="#111" stroke-width="0.3" >9</text>
<text transform="translate(299.80,811.20) scale(0.87,1)" font-size="18" text-anchor="middle" font-weight="bold" font-style="normal" fill="#111" stroke="#111" stroke-width="0.3" >12</text>
<text transform="translate(77.10,576.70) scale(0.9,1)" font-size="24" text-anchor="start" font-weight="bold" font-style="normal" fill="#111" stroke="#111" stroke-width="0.3" >(e)</text>
<text transform="translate(342.30,576.20) scale(0.9,1)" font-size="24" text-anchor="end" font-weight="bold" font-style="normal" fill="#111" stroke="#111" stroke-width="0.3" >MgO</text>
<text transform="translate(388.50,793.00) scale(0.87,1)" font-size="18" text-anchor="end" font-weight="bold" font-style="normal" fill="#111" stroke="#111" stroke-width="0.3" >0</text>
<text transform="translate(388.50,719.80) scale(0.87,1)" font-size="18" text-anchor="end" font-weight="bold" font-style="normal" fill="#111" stroke="#111" stroke-width="0.3" >10</text>
<text transform="translate(388.50,646.60) scale(0.87,1)" font-size="18" text-anchor="end" font-weight="bold" font-style="normal" fill="#111" stroke="#111" stroke-width="0.3" >20</text>
<text transform="translate(388.50,573.40) scale(0.87,1)" font-size="18" text-anchor="end" font-weight="bold" font-style="normal" fill="#111" stroke="#111" stroke-width="0.3" >30</text>
<text transform="translate(397.60,811.80) scale(0.87,1)" font-size="18" text-anchor="middle" font-weight="bold" font-style="normal" fill="#111" stroke="#111" stroke-width="0.3" >0</text>
<text transform="translate(468.20,811.80) scale(0.87,1)" font-size="18" text-anchor="middle" font-weight="bold" font-style="normal" fill="#111" stroke="#111" stroke-width="0.3" >1</text>
<text transform="translate(538.80,811.80) scale(0.87,1)" font-size="18" text-anchor="middle" font-weight="bold" font-style="normal" fill="#111" stroke="#111" stroke-width="0.3" >2</text>
<text transform="translate(609.40,811.80) scale(0.87,1)" font-size="18" text-anchor="middle" font-weight="bold" font-style="normal" fill="#111" stroke="#111" stroke-width="0.3" >3</text>
<text transform="translate(680.00,811.80) scale(0.87,1)" font-size="18" text-anchor="middle" font-weight="bold" font-style="normal" fill="#111" stroke="#111" stroke-width="0.3" >4</text>
<text transform="translate(408.50,576.30) scale(0.9,1)" font-size="24" text-anchor="start" font-weight="bold" font-style="normal" fill="#111" stroke="#111" stroke-width="0.3" >(f)</text>
<text transform="translate(675.30,579.00) scale(0.9,1)" font-size="24" text-anchor="end" font-weight="bold" font-style="normal" fill="#111" stroke="#111" stroke-width="0.3" >CoO</text>
<text transform="translate(675.5,23.6) scale(0.9,1)" font-size="24" text-anchor="end" font-weight="bold" fill="#111" stroke="#111" stroke-width="0.3"><tspan dy="0">Al</tspan><tspan dy="9.6" font-size="14">2</tspan><tspan dy="-9.6">O</tspan><tspan dy="9.6" font-size="14">3</tspan></text>
<text transform="translate(343.2,301.3) scale(0.9,1)" font-size="24" text-anchor="end" font-weight="bold" fill="#111" stroke="#111" stroke-width="0.3"><tspan dy="0">TiO</tspan><tspan dy="9.6" font-size="14">2</tspan></text>
<text transform="translate(675.5,304.1) scale(0.9,1)" font-size="24" text-anchor="end" font-weight="bold" fill="#111" stroke="#111" stroke-width="0.3"><tspan dy="0">Nb</tspan><tspan dy="9.6" font-size="14">2</tspan><tspan dy="-9.6">O</tspan><tspan dy="9.6" font-size="14">5</tspan></text>
<text transform="translate(18,132.8) rotate(-90) scale(1,0.96)" font-size="25" text-anchor="middle" font-weight="bold" fill="#111" stroke="#111" stroke-width="0.3">Percentage (%)</text>
<text transform="translate(18,408.2) rotate(-90) scale(1,0.96)" font-size="25" text-anchor="middle" font-weight="bold" fill="#111" stroke="#111" stroke-width="0.3">Percentage (%)</text>
<text transform="translate(18,684.7) rotate(-90) scale(1,0.96)" font-size="25" text-anchor="middle" font-weight="bold" fill="#111" stroke="#111" stroke-width="0.3">Percentage (%)</text>
<text transform="translate(181.8,846) scale(0.9,1)" font-size="24" text-anchor="start" fill="#111" stroke="#111" stroke-width="0.3"><tspan font-style="italic" font-size="25.5">V</tspan><tspan font-weight="bold"> (V)</tspan></text>
<text transform="translate(514.8,846) scale(0.9,1)" font-size="24" text-anchor="start" fill="#111" stroke="#111" stroke-width="0.3"><tspan font-style="italic" font-size="25.5">V</tspan><tspan font-weight="bold"> (V)</tspan></text>
</svg>
</body></html>
